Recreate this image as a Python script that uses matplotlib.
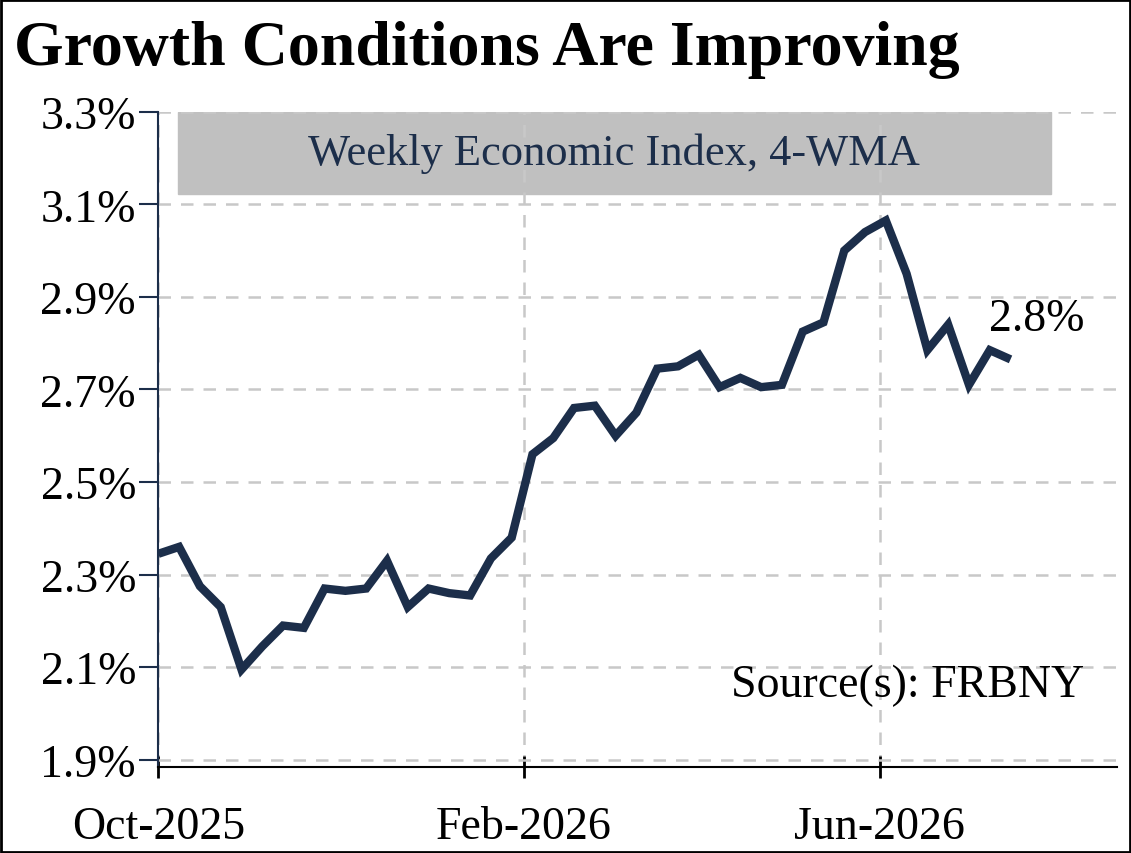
import matplotlib
matplotlib.use("Agg")
import matplotlib.pyplot as plt
import pandas as pd
from matplotlib.patches import Rectangle

values = [2.345, 2.36, 2.275, 2.23, 2.095, 2.145, 2.19, 2.185, 2.27, 2.265, 2.27, 2.33,
          2.23, 2.27, 2.26, 2.255, 2.335, 2.38, 2.56, 2.595, 2.66, 2.665, 2.60, 2.65,
          2.745, 2.75, 2.775, 2.705, 2.725, 2.705, 2.71, 2.825, 2.845, 3.0, 3.04, 3.065,
          2.95, 2.785, 2.84, 2.71, 2.785, 2.765]
dates = pd.date_range("2025-10-01", periods=len(values), freq="7D")
yticks = [1.9, 2.1, 2.3, 2.5, 2.7, 2.9, 3.1, 3.3]
xticks = pd.to_datetime(["2025-10-01", "2026-02-01", "2026-06-01"])
xlabels = ["Oct-2025", "Feb-2026", "Jun-2026"]

plt.rcParams['font.family'] = ['Liberation Serif', 'DejaVu Serif']
navy = "#1c2e4a"
fig = plt.figure(figsize=(11.31, 8.54), dpi=100)
ax = fig.add_axes([0.14, 0.101, 0.848, 0.767])
ax.plot(dates, values, color=navy, lw=6, solid_capstyle="butt", solid_joinstyle="miter")
ax.set_ylim(1.885, 3.3)
ax.set_xlim(pd.Timestamp("2025-10-01"), pd.Timestamp("2026-08-20"))
ax.set_yticks(yticks)
ax.set_yticklabels([f"{v:.1f}%" for v in yticks], fontsize=33)
ax.set_xticks(xticks)
ax.set_xticklabels(xlabels, fontsize=33)
ax.grid(True, ls=(0, (5, 4)), color="#c8c8c8", lw=1.8)
for s in ["top", "right"]:
    ax.spines[s].set_visible(False)
ax.spines["left"].set_color(navy)
ax.spines["left"].set_linewidth(1.5)
ax.spines["bottom"].set_color("black")
ax.spines["bottom"].set_linewidth(1.5)
ax.tick_params(axis="y", length=14, width=1.5, color=navy, pad=2)
ax.tick_params(axis="x", length=16, width=2, pad=20, direction="inout")
ax.add_patch(Rectangle((0.021, 0.874), 0.91, 0.126, transform=ax.transAxes,
                       color="#c0c0c0", zorder=0))
ax.text(0.475, 0.937, "Weekly Economic Index, 4-WMA", transform=ax.transAxes,
        ha="center", va="center", fontsize=32, color=navy)
fig.text(1037 / 1131, 1 - 320 / 854, "2.8%", fontsize=33, ha="center", va="center")
ax.text(0.965, 0.125, "Source(s): FRBNY", transform=ax.transAxes, ha="right",
        va="center", fontsize=33)
fig.text(0.012, 0.942, "Growth Conditions Are Improving", fontsize=46, weight="bold",
         va="center")
fig.patches.append(Rectangle((0.001, 0.001), 0.998, 0.998, transform=fig.transFigure,
                             fill=False, ec="black", lw=2))
fig.savefig("out.png", dpi=100)
